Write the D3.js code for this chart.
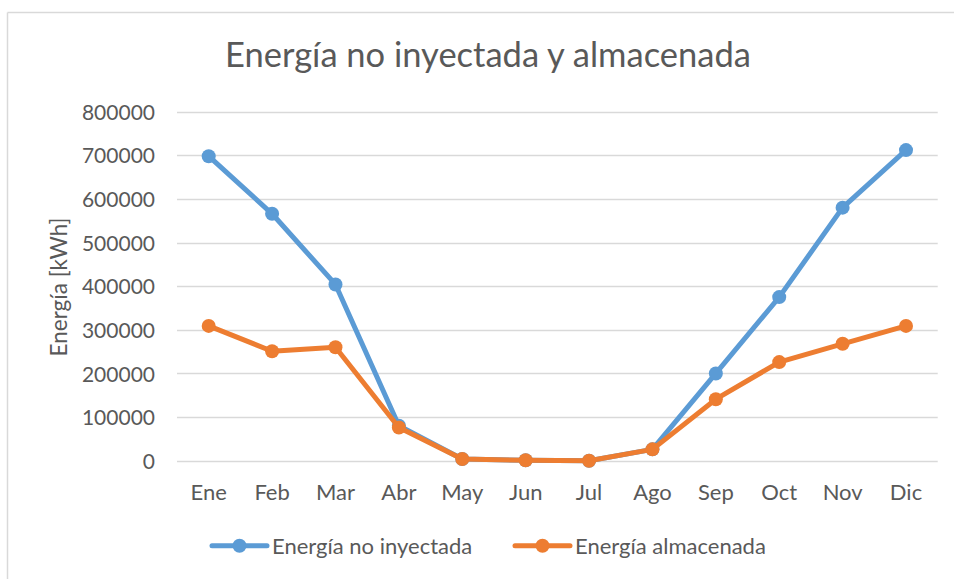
<!DOCTYPE html>
<html><head><meta charset="utf-8">
<script src="https://cdn.jsdelivr.net/npm/d3@7"></script>
<style>body{margin:0;background:#fff}svg{display:block}text{font-family:Lato,"Open Sans",sans-serif;fill:#595959}</style>
</head><body><svg id="c" width="954" height="579"></svg>
<script>
const months = ["Ene","Feb","Mar","Abr","May","Jun","Jul","Ago","Sep","Oct","Nov","Dic"];
const noInyectada = [698000,566000,404000,80000,4000,1000,0,26000,200000,375000,580000,712000];
const almacenada = [309000,251000,260000,76000,4000,1000,0,26000,141000,226000,268000,309000];
const yTicks = [0,100000,200000,300000,400000,500000,600000,700000,800000];
const seriesNames = ["Energía no inyectada","Energía almacenada"];
const colors = ["#5B9BD5","#ED7D31"];
const title = "Energía no inyectada y almacenada";
const yTitle = "Energía [kWh]";

const svg = d3.select("#c");
// chart frame (top and left edges visible)
svg.append("line").attr("x1",7.5).attr("x2",954).attr("y1",12.5).attr("y2",12.5).attr("stroke","#d9d9d9").attr("stroke-width",1.5);
svg.append("line").attr("x1",7.5).attr("x2",7.5).attr("y1",12.5).attr("y2",579).attr("stroke","#d9d9d9").attr("stroke-width",1.5);

const x = d3.scaleBand().domain(months).range([177,937.7]);
const y = d3.scaleLinear().domain([0,800000]).range([460.7,111.7]);

// gridlines
svg.append("g").selectAll("line").data(yTicks).join("line")
  .attr("x1",177).attr("x2",937.7)
  .attr("y1",d=>Math.round(y(d))+0.5).attr("y2",d=>Math.round(y(d))+0.5)
  .attr("stroke","#d9d9d9").attr("stroke-width",1.5);

// y axis labels
const yAxis = d3.axisLeft(y).tickValues(yTicks).tickSize(0).tickPadding(0).tickFormat(d=>String(d));
const gy = svg.append("g").attr("transform","translate(155,0)").call(yAxis);
gy.select(".domain").remove();
gy.selectAll("text").attr("font-size",21).attr("fill","#595959").attr("font-family","Lato").attr("dy","0.36em");

// x axis labels
const xAxis = d3.axisBottom(x).tickSize(0).tickPadding(0);
const gx = svg.append("g").attr("transform","translate(0,500)").call(xAxis);
gx.select(".domain").remove();
gx.selectAll("text").attr("font-size",22).attr("fill","#595959").attr("font-family","Lato").attr("dy",0);

// title
svg.append("text").attr("x",488).attr("y",67).attr("text-anchor","middle").attr("font-size",34.5).text(title);
// y title
svg.append("text").attr("transform","translate(67,287) rotate(-90)").attr("text-anchor","middle").attr("font-size",22.5).text(yTitle);

const line = d3.line().x((d,i)=>x(months[i])+x.bandwidth()/2).y(d=>y(d));
[noInyectada, almacenada].forEach((s,k)=>{
  const g = svg.append("g");
  g.append("path").attr("d",line(s)).attr("fill","none").attr("stroke",colors[k]).attr("stroke-width",5).attr("stroke-linejoin","round").attr("stroke-linecap","round");
  g.selectAll("circle").data(s).join("circle")
    .attr("cx",(d,i)=>x(months[i])+x.bandwidth()/2).attr("cy",d=>y(d)).attr("r",7).attr("fill",colors[k]);
});

// legend
const legX = [212,515];
const leg = svg.append("g");
seriesNames.forEach((n,k)=>{
  const lx = legX[k], ly = 545.7;
  leg.append("line").attr("x1",lx).attr("x2",lx+55).attr("y1",ly).attr("y2",ly).attr("stroke",colors[k]).attr("stroke-width",5).attr("stroke-linecap","round");
  leg.append("circle").attr("cx",lx+27.5).attr("cy",ly).attr("r",7).attr("fill",colors[k]);
  leg.append("text").attr("x",lx+60).attr("y",ly).attr("dy","0.36em").attr("font-size",22).text(n);
});
</script></body></html>
